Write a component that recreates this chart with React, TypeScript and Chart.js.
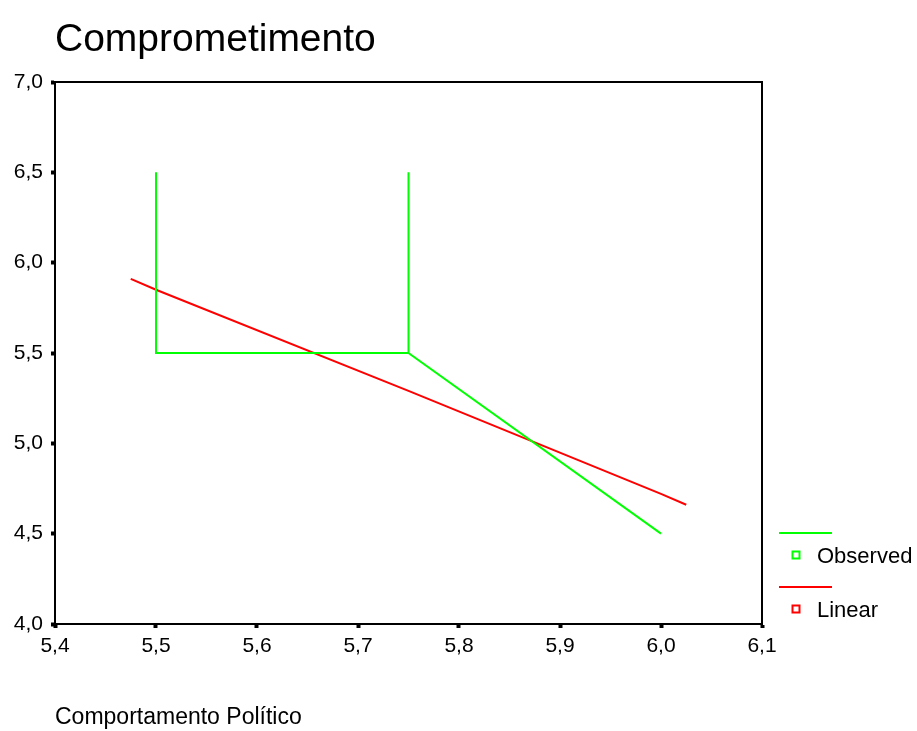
import React, { useEffect, useRef } from 'react';
import { Chart, registerables } from 'chart.js';

Chart.register(...registerables);

const chartTitle = 'Comprometimento';
const xAxisTitle = 'Comportamento Político';
const xTicks = [5.4, 5.5, 5.6, 5.7, 5.8, 5.9, 6.0, 6.1];
const yTicks = [4.0, 4.5, 5.0, 5.5, 6.0, 6.5, 7.0];
const observedX = [5.5, 5.5, 5.75, 5.75, 5.75, 6.0];
const observedY = [6.5, 5.5, 5.5, 6.5, 5.5, 4.5];
const linearX = [5.475, 5.5, 5.75, 6.0, 6.025];
const linearY = [5.91, 5.85, 5.29, 4.72, 4.66];
const seriesNames = ['Observed', 'Linear'];
const seriesColors = ['#00ff00', '#ff0000'];

const FONT = "Arial, 'Liberation Sans', sans-serif";
const fmt = (v: number) => v.toFixed(1).replace('.', ',');

const framePlugin = {
  id: 'frame',
  afterDraw(chart: any) {
    const { ctx, chartArea } = chart;
    ctx.save();
    ctx.strokeStyle = '#000';
    ctx.lineWidth = 2;
    ctx.beginPath();
    ctx.moveTo(chartArea.left, chartArea.top);
    ctx.lineTo(chartArea.right, chartArea.top);
    ctx.lineTo(chartArea.right, chartArea.bottom);
    ctx.stroke();
    ctx.restore();
  },
};

const legendPlugin = {
  id: 'spssLegend',
  afterDraw(chart: any) {
    const { ctx, chartArea } = chart;
    ctx.save();
    chart.data.datasets.forEach((ds: any, i: number) => {
      const baseY = chartArea.bottom - 91 + i * 54;
      const x0 = chartArea.right + 17;
      ctx.strokeStyle = ds.borderColor;
      ctx.lineWidth = 2;
      ctx.beginPath();
      ctx.moveTo(x0, baseY);
      ctx.lineTo(x0 + 53, baseY);
      ctx.stroke();
      const sq = 7;
      const cx = chartArea.right + 34;
      const cy = baseY + 22;
      ctx.lineWidth = 2;
      ctx.strokeRect(cx - sq / 2, cy - sq / 2, sq, sq);
      ctx.fillStyle = '#000';
      ctx.font = `22px ${FONT}`;
      ctx.textBaseline = 'middle';
      ctx.textAlign = 'left';
      ctx.fillText(ds.label, chartArea.right + 55, cy + 2);
    });
    ctx.restore();
  },
};

export default function App() {
  const ref = useRef<HTMLCanvasElement>(null);
  useEffect(() => {
    document.body.style.margin = '0';
    const canvas = ref.current!;
    const chart = new Chart(canvas, {
      type: 'scatter',
      data: {
        datasets: [
          {
            label: seriesNames[0],
            data: observedX.map((x, i) => ({ x, y: observedY[i] })),
            showLine: true,
            borderColor: seriesColors[0],
            backgroundColor: seriesColors[0],
            borderWidth: 2,
            pointRadius: 0,
            tension: 0,
          },
          {
            label: seriesNames[1],
            data: linearX.map((x, i) => ({ x, y: linearY[i] })),
            showLine: true,
            borderColor: seriesColors[1],
            backgroundColor: seriesColors[1],
            borderWidth: 2,
            pointRadius: 0,
            tension: 0,
          },
        ],
      },
      options: {
        animation: false,
        responsive: false,
        maintainAspectRatio: false,
        devicePixelRatio: 1,
        layout: { padding: { left: 0, right: 155, top: 0, bottom: 0 } },
        plugins: {
          legend: { display: false },
          tooltip: { enabled: false },
          title: {
            display: true,
            text: chartTitle,
            align: 'start',
            fullSize: false,
            color: '#000',
            font: { family: FONT, size: 39, weight: 'normal', lineHeight: 1.2 },
            padding: { top: 17, bottom: 18.2 },
          },
        },
        scales: {
          x: {
            type: 'linear',
            min: 5.4,
            max: 6.1,
            afterBuildTicks: (s: any) => {
              s.ticks = xTicks.map((v) => ({ value: v }));
            },
            afterFit: (s: any) => {
              s.height = 107;
            },
            ticks: {
              color: '#000',
              font: { family: FONT, size: 21 },
              padding: 6,
              maxRotation: 0,
              autoSkip: false,
              callback: (v: any) => fmt(Number(v)),
            },
            grid: {
              display: true,
              drawOnChartArea: false,
              drawTicks: true,
              tickLength: 4,
              tickWidth: 4,
              tickColor: '#000',
            },
            border: { display: true, color: '#000', width: 2 },
            title: {
              display: true,
              text: xAxisTitle,
              align: 'start',
              color: '#000',
              font: { family: FONT, size: 23, lineHeight: 1.2 },
              padding: { top: 0, bottom: 0 },
            },
          },
          y: {
            type: 'linear',
            min: 4.0,
            max: 7.0,
            afterBuildTicks: (s: any) => {
              s.ticks = yTicks.map((v) => ({ value: v }));
            },
            afterFit: (s: any) => {
              s.width = 55;
            },
            ticks: {
              color: '#000',
              font: { family: FONT, size: 21 },
              padding: 8,
              autoSkip: false,
              callback: (v: any) => fmt(Number(v)),
            },
            grid: {
              display: true,
              drawOnChartArea: false,
              drawTicks: true,
              tickLength: 4,
              tickWidth: 4,
              tickColor: '#000',
            },
            border: { display: true, color: '#000', width: 2 },
          },
        },
      },
      plugins: [framePlugin, legendPlugin],
    } as any);
    return () => chart.destroy();
  }, []);
  return (
    <div style={{ width: 917, height: 731, background: '#fff' }}>
      <canvas ref={ref} width={917} height={731} style={{ display: 'block', width: 917, height: 731 }} />
    </div>
  );
}
